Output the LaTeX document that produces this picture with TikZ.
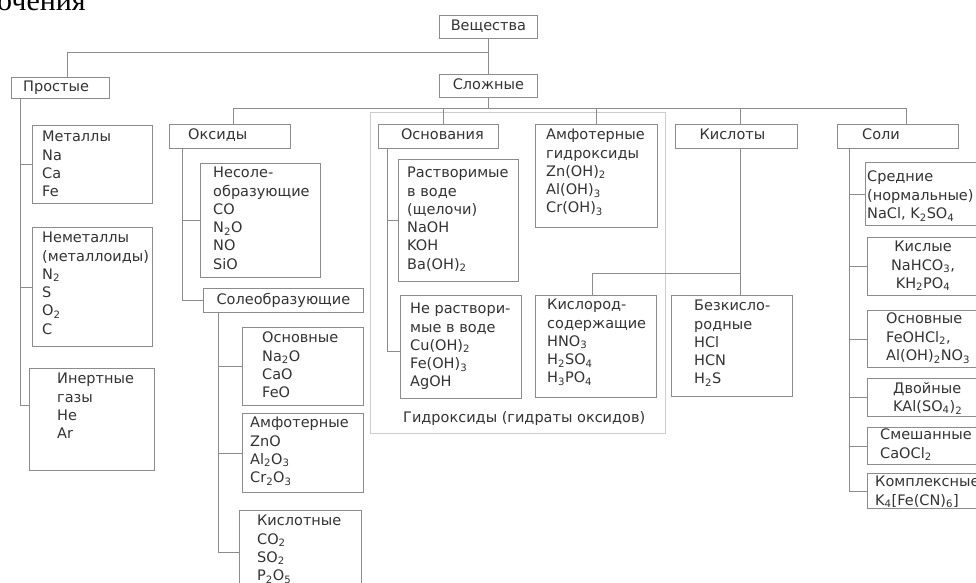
\documentclass[tikz,border=0pt]{standalone}
\usepackage{fontspec}
\setmainfont{DejaVu Sans}
\newfontfamily\headfont{Liberation Serif}
\usetikzlibrary{calc}
\definecolor{ln}{gray}{0.55}
\definecolor{tx}{gray}{0.2}
\definecolor{fr}{gray}{0.8}
\newcommand\ssb[1]{\textsubscript{#1}}
\newcommand\mkbox[5]{\node[box, minimum width={#4-#2}, minimum height={#5-#3}] (#1) at (#2,#3) {};}
\tikzset{
  box/.style={draw=ln, line width=0.8pt, rectangle, inner sep=0pt, anchor=north west},
  txt/.style={text=tx, inner sep=0pt, align=left, anchor=north west, font=\fontsize{14.5}{18.3}\selectfont},
  ctxt/.style={txt, align=center, anchor=north},
  conn/.style={draw=ln, line width=0.8pt},
}
\begin{document}
\begin{tikzpicture}[x=1pt,y=-1pt]
\fill[white] (0,0) rectangle (976,582);
\useasboundingbox (0,0) rectangle (976,582);
\clip (0,0) rectangle (976,582);
\coordinate (y52) at (0,52);
\coordinate (y108) at (0,108);
\coordinate (y273) at (0,273);
% header fragment
\node[font=\headfont\fontsize{30}{30}\selectfont, anchor=base west, inner sep=0pt, text=black] (hdr) at (-3,10) {очения};
% hydroxide frame
\node[box, draw=fr, minimum width=295, minimum height=321] (hydr) at (370,112) {};
\node[txt] (hydrl) at (403,411) {Гидроксиды (гидраты оксидов)};
% boxes
\mkbox{vesh}{439}{15}{537}{38}
\mkbox{slozh}{439}{74}{537}{97}
\mkbox{prost}{11}{77}{109}{98}
\mkbox{metal}{32}{125}{152}{203}
\mkbox{nemet}{32}{227}{152}{346}
\mkbox{inert}{29}{368}{154}{470}
\mkbox{oks}{169}{124}{290}{148}
\mkbox{nesol}{200}{163}{320}{277}
\mkbox{solobr}{203}{288}{363}{312}
\mkbox{osnox}{242}{327}{363}{405}
\mkbox{amfox}{242}{413}{363}{492}
\mkbox{kislox}{239}{510}{361}{594}
\mkbox{osn}{378}{124}{498}{148}
\mkbox{rastv}{398}{159}{518}{281}
\mkbox{nerastv}{400}{295}{521}{398}
\mkbox{amfg}{535}{124}{657}{227}
\mkbox{kisl}{675}{124}{797}{148}
\mkbox{kislorod}{535}{295}{656}{397}
\mkbox{bezk}{671}{295}{792}{396}
\mkbox{soli}{837}{124}{958}{148}
\mkbox{sred}{865}{162}{995}{225}
\mkbox{kislye}{867}{237}{995}{295}
\mkbox{osnsol}{867}{310}{995}{367}
\mkbox{dvoin}{867}{378}{995}{416}
\mkbox{smesh}{867}{427}{995}{464}
\mkbox{kompl}{867}{473}{995}{508}
% texts
\node[ctxt] (veshT) at (vesh.north) [yshift=-5pt] {Вещества};
\node[ctxt] (slozhT) at (slozh.north) [yshift=-5pt] {Сложные};
\node[txt] (prostT) at (23,81) {Простые};
\node[txt] (metalT) at (42,131) {Металлы\\Na\\Ca\\Fe};
\node[txt] (nemetT) at (42,232) {Неметаллы\\(металлоиды)\\N\ssb{2}\\S\\O\ssb{2}\\C};
\node[txt] (inertT) at (57,373) {Инертные\\газы\\He\\Ar};
\node[txt] (oksT) at (188,129) {Оксиды};
\node[txt] (nesolT) at (213,167) {Несоле-\\образующие\\CO\\N\ssb{2}O\\NO\\SiO};
\node[ctxt] (solobrT) at (solobr.north) [yshift=-5pt] {Солеобразующие};
\node[txt] (osnoxT) at (262,332) {Основные\\Na\ssb{2}O\\CaO\\FeO};
\node[txt] (amfoxT) at (250,417) {Амфотерные\\ZnO\\Al\ssb{2}O\ssb{3}\\Cr\ssb{2}O\ssb{3}};
\node[txt] (kisloxT) at (257,515) {Кислотные\\CO\ssb{2}\\SO\ssb{2}\\P\ssb{2}O\ssb{5}};
\node[ctxt] (osnT) at ([xshift=4pt]osn.north) [yshift=-5pt] {Основания};
\node[txt] (rastvT) at (407,167) {Растворимые\\в воде\\(щелочи)\\NaOH\\KOH\\Ba(OH)\ssb{2}};
\node[txt] (nerastvT) at (410,303) {Не раствори-\\мые в воде\\Cu(OH)\ssb{2}\\Fe(OH)\ssb{3}\\AgOH};
\node[txt] (amfgT) at (546,129) {Амфотерные\\гидроксиды\\Zn(OH)\ssb{2}\\Al(OH)\ssb{3}\\Cr(OH)\ssb{3}};
\node[ctxt] (kislT) at ([xshift=-4pt]kisl.north) [yshift=-5pt] {Кислоты};
\node[txt] (kislorodT) at (547,299) {Кислород-\\содержащие\\HNO\ssb{3}\\H\ssb{2}SO\ssb{4}\\H\ssb{3}PO\ssb{4}};
\node[txt] (bezkT) at (694,300) {Безкисло-\\родные\\HCl\\HCN\\H\ssb{2}S};
\node[txt] (soliT) at (862,129) {Соли};
\node[txt] (sredT) at (867,171) {Средние\\(нормальные)\\NaCl, K\ssb{2}SO\ssb{4}};
\node[ctxt] (kislyeT) at (923,241) {Кислые\\NaHCO\ssb{3},\\KH\ssb{2}PO\ssb{4}};
\node[txt] (osnsolT) at (886,313) {Основные\\FeOHCl\ssb{2},\\Al(OH)\ssb{2}NO\ssb{3}};
\node[txt] (dvoinT) at (893,382) {Двойные\\KAl(SO\ssb{4})\ssb{2}};
\node[txt] (smeshT) at (880,429) {Смешанные\\CaOCl\ssb{2}};
\node[txt] (komplT) at (875,476) {Комплексные\\K\ssb{4}[Fe(CN)\ssb{6}]};
% connectors: top level
\draw[conn] (vesh.south) -- (slozh.north);
\draw[conn] (vesh.south |- y52) -| ([xshift=7pt]prost.north);
\draw[conn] (slozh.south) -- (slozh.south |- y108);
\draw[conn] ([xshift=3.5pt]oks.north) |- ([xshift=8.5pt]soli.north |- y108) -- ([xshift=8.5pt]soli.north);
\draw[conn] ([xshift=5pt]osn.north) -- ([xshift=5pt]osn.north |- y108);
\draw[conn] (amfg.north) -- (amfg.north |- y108);
\draw[conn] ([xshift=4pt]kisl.north) -- ([xshift=4pt]kisl.north |- y108);
% простые
\coordinate (sp1) at ([xshift=-40pt]prost.south);
\draw[conn] (sp1) |- ([yshift=14pt]inert.west);
\draw[conn] (sp1 |- metal.west) -- (metal.west);
\draw[conn] (sp1 |- nemet.west) -- (nemet.west);
% оксиды
\coordinate (sp2) at ([xshift=-47.5pt]oks.south);
\draw[conn] (sp2) |- (solobr.west);
\draw[conn] (sp2 |- nesol.west) -- (nesol.west);
\coordinate (sp3) at ([xshift=-65pt]solobr.south);
\draw[conn] (sp3) |- (kislox.west);
\draw[conn] (sp3 |- osnox.west) -- (osnox.west);
\draw[conn] (sp3 |- amfox.west) -- (amfox.west);
% основания
\coordinate (sp4) at ([xshift=-51.5pt]osn.south);
\draw[conn] (sp4) |- ([yshift=-4pt]nerastv.west);
\draw[conn] (sp4 |- rastv.west) -- (rastv.west);
% кислоты
\coordinate (sp5) at ([xshift=4pt]kisl.south);
\draw[conn] (sp5) -- (sp5 |- bezk.north);
\draw[conn] (sp5 |- y273) -| ([xshift=-3.5pt]kislorod.north);
% соли
\coordinate (sp6) at ([xshift=-48.5pt]soli.south);
\draw[conn] (sp6) |- (kompl.west);
\draw[conn] (sp6 |- sred.west) -- (sred.west);
\draw[conn] (sp6 |- kislye.west) -- (kislye.west);
\draw[conn] (sp6 |- osnsol.west) -- (osnsol.west);
\draw[conn] (sp6 |- dvoin.west) -- (dvoin.west);
\draw[conn] (sp6 |- smesh.west) -- (smesh.west);
\end{tikzpicture}
\end{document}
